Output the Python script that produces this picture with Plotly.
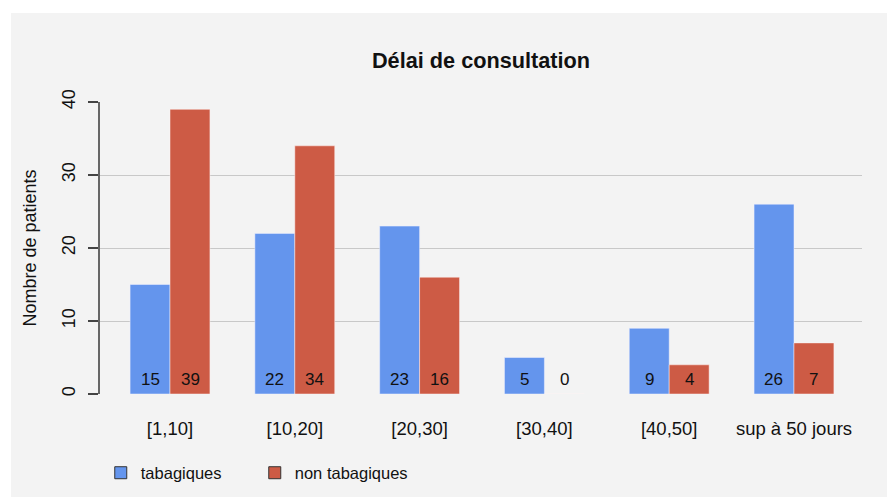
import plotly.graph_objects as go

categories = ["[1,10]", "[10,20]", "[20,30]", "[30,40]", "[40,50]", "sup à 50 jours"]
tabagiques = [15, 22, 23, 5, 9, 26]
non_tabagiques = [39, 34, 16, 0, 4, 7]
series_names = ["tabagiques", "non tabagiques"]
y_ticks = [0, 10, 20, 30, 40]

BLUE = "#6495ED"
RED = "#CD5B45"
BW = 0.32
FONT = "Liberation Sans, Arial, sans-serif"

# page body has an 8px margin; figure is sized so that it fits the window
W, H = 887, 489
L, R, T, B = 92, 33, 94, 103
PW, PH = W - L - R, H - T - B

fig = go.Figure()
fig.add_trace(go.Bar(x=categories, y=tabagiques, offset=-BW, width=BW,
                     marker=dict(color=BLUE, line=dict(color="#f0f0ff", width=0.5)),
                     showlegend=False, hoverinfo="x+y"))
fig.add_trace(go.Bar(x=categories, y=non_tabagiques, offset=0, width=BW,
                     marker=dict(color=RED, line=dict(color="#fff0f0", width=0.5)),
                     showlegend=False, hoverinfo="x+y"))

for name, col in zip(series_names, [BLUE, RED]):
    fig.add_trace(go.Scatter(x=[None], y=[None], mode="markers", name=name,
                             marker=dict(symbol="square", size=12, color=col,
                                         line=dict(color="#333333", width=1))))

annotations = []
for i, cat in enumerate(categories):
    for val, shift in [(tabagiques[i], -20), (non_tabagiques[i], 20)]:
        annotations.append(dict(x=cat, y=0, xref="x", yref="y", text=str(val),
                                showarrow=False, xshift=shift, yshift=15,
                                font=dict(size=17, color="#111111", family=FONT)))

fig.add_shape(type="rect", xref="paper", yref="paper",
              x0=(3 - L) / PW, x1=(W + 20 - L) / PW,
              y0=(H - B - (H + 20)) / PH, y1=(H - B - 5) / PH,
              fillcolor="#F3F3F3", line=dict(width=0), layer="below")

fig.update_layout(
    width=W, height=H,
    margin=dict(l=L, r=R, t=T, b=B, autoexpand=False),
    paper_bgcolor="white", plot_bgcolor="rgba(0,0,0,0)",
    barmode="overlay",
    title=dict(text="<b>Délai de consultation</b>", x=(L + PW / 2) / W, xanchor="center",
               y=1 - 52 / H, yanchor="middle",
               font=dict(size=21.7, color="#111111", family=FONT)),
    font=dict(family=FONT, size=17, color="#111111"),
    xaxis=dict(range=[-0.561, 5.545], showgrid=False, showline=False, zeroline=False,
               ticks="", ticklabelstandoff=21, tickfont=dict(size=18.5), automargin=False),
    yaxis=dict(range=[0, 40], tickvals=y_ticks, tickangle=-90,
               showgrid=True, gridcolor="#C8C8C8", gridwidth=1,
               zeroline=False, showline=True, linecolor="#666666", linewidth=1.5,
               ticks="outside", ticklen=10, tickcolor="#444444", tickwidth=1.5,
               ticklabelstandoff=6, tickfont=dict(size=18), automargin=False,
               title=dict(text="Nombre de patients", standoff=18, font=dict(size=18))),
    legend=dict(orientation="h", x=0.001, xanchor="left", y=(H - B - 465) / PH,
                yanchor="middle", entrywidth=109, entrywidthmode="pixels",
                font=dict(size=16.5), bgcolor="rgba(0,0,0,0)"),
    annotations=annotations,
    showlegend=True,
)

fig.write_html("out.html")
